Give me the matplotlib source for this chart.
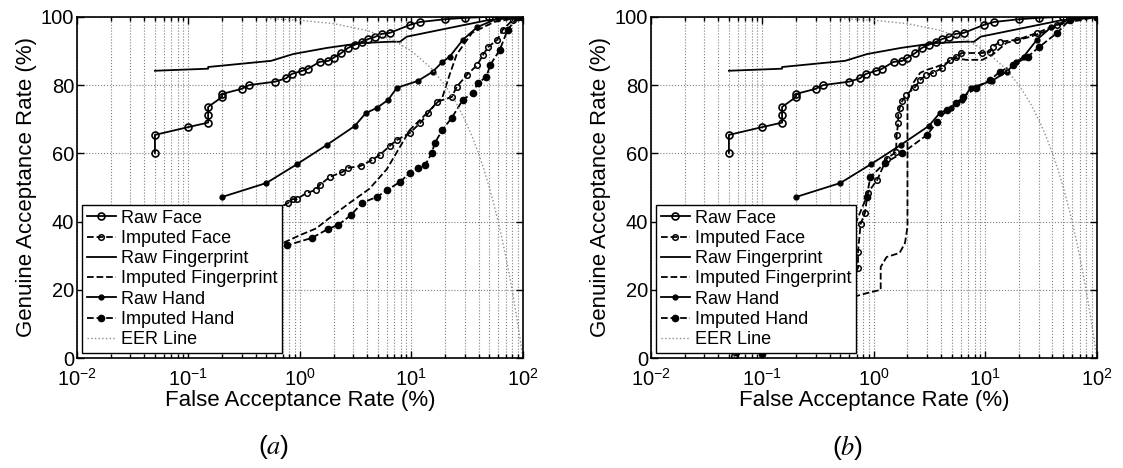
import numpy as np
import matplotlib
matplotlib.use('Agg')
from matplotlib import pyplot as plt
from matplotlib.ticker import LogLocator, NullFormatter, FixedLocator

plt.rcParams['font.family'] = ['Liberation Sans', 'DejaVu Sans']
plt.rcParams['mathtext.default'] = 'regular'
plt.rcParams['mathtext.fontset'] = 'stix'

# ---- raw curves (same in both panels) ----
raw_face_far = [0.05, 0.05, 0.1, 0.15, 0.15, 0.15, 0.2, 0.2, 0.3, 0.35, 0.6, 0.75, 0.85, 1.05, 1.17,
                1.5, 1.8, 2.0, 2.35, 2.7, 3.1, 3.6, 4.1, 4.7, 5.4, 6.4, 9.8, 12, 20, 30, 50, 100]
raw_face_gar = [60.1, 65.4, 67.7, 69, 71.3, 73.6, 76.5, 77.4, 78.9, 80, 81, 82, 83.3, 84.2, 84.7,
                86.8, 87.1, 88, 89.4, 90.9, 91.8, 92.7, 93.5, 94.1, 95, 95.3, 97.7, 98.5, 99.3, 99.7, 100, 100]

raw_fp_far = [0.05, 0.15, 0.15, 0.55, 0.87, 1.75, 3.5, 6.4, 7.9, 9.1, 48, 100]
raw_fp_gar = [84.2, 84.8, 85.3, 87.1, 89.1, 90.9, 92.3, 92.7, 92.7, 94.2, 99, 100]

raw_hand_far = [0.2, 0.5, 0.95, 1.75, 3.1, 3.9, 4.9, 6.2, 7.4, 11.4, 15.5, 19, 22, 29, 39, 60, 100]
raw_hand_gar = [47.2, 51.3, 56.9, 62.5, 68, 71.8, 73.3, 75.7, 79.2, 81.2, 83.9, 86.8, 88.3, 93.3, 97, 99.6, 100]

# ---- imputed curves, panel (a) ----
a_imp_face_far = [0.5, 0.78, 0.86, 0.94, 1.15, 1.4, 1.5, 1.86, 2.4, 2.7, 3.5, 4.4, 5.2, 6.4, 7.4, 9.7,
                  12, 14.2, 17, 23, 25.5, 31.5, 39, 44, 49, 59, 66, 81, 100]
a_imp_face_gar = [42, 45.4, 46.6, 46.6, 48.4, 49.3, 50.7, 53.1, 54.5, 55.7, 56.3, 58, 59.5, 62.2, 63.9, 66,
                  68.9, 71.8, 75.1, 76.5, 79.5, 83, 85.9, 88.9, 91.2, 93.3, 96.2, 99.1, 100]

a_imp_fp_far = [0.4, 0.7, 1.0, 1.4, 1.8, 2.8, 4.2, 6.0, 7.9, 9.7, 14, 19, 22, 25.5, 35, 55, 100]
a_imp_fp_gar = [32, 33.7, 36, 38, 40.8, 45.5, 49.6, 55.3, 61.9, 66.9, 72, 76.5, 83, 89, 95.3, 98.5, 100]

a_imp_hand_far = [0.5, 0.76, 1.28, 1.78, 2.2, 2.9, 3.6, 4.9, 6.1, 7.9, 9.7, 11.5, 13.3, 15.2, 16.2, 19,
                  23, 29, 35.5, 39.5, 47, 51, 62, 73, 90, 100]
a_imp_hand_gar = [31.5, 33, 35.2, 37.8, 39, 42, 45.5, 47.2, 49.3, 51.6, 54.3, 55.7, 56.6, 60, 63, 66.9,
                  70.4, 75.7, 77.7, 80.6, 82.4, 85.9, 90.3, 96.2, 100, 100]

# ---- imputed curves, panel (b) ----
b_imp_face_far = [0.055, 0.15, 0.4, 0.72, 0.72, 0.76, 0.83, 0.88, 1.07, 1.3, 1.58, 1.6, 1.65, 1.65, 1.7,
                  1.8, 1.95, 2.35, 2.6, 2.95, 3.4, 4.1, 4.8, 5.5, 6.1, 9.3, 11, 11.6, 13.5, 19.4, 29, 44, 100]
b_imp_face_gar = [0.6, 5, 15, 26.4, 31.1, 39.3, 42.5, 48.4, 52.2, 58.4, 60.4, 65.4, 68.9, 71.3, 73.3,
                  75.4, 77.1, 79.5, 81.5, 83, 83.6, 85, 87.4, 88.3, 89.4, 89.4, 89.7, 91.2, 92.7, 93.3, 95.3, 97.7, 100]

b_imp_fp_far = [0.3, 0.6, 0.86, 1.15, 1.15, 1.3, 1.7, 1.9, 2.0, 2.0, 2.25, 2.6, 3.0, 3.6, 4.5, 5.2,
                6.7, 9.4, 11.6, 15.5, 25, 38, 57, 100]
b_imp_fp_gar = [16.5, 17.6, 19, 20, 26.7, 29.6, 30.8, 33.7, 38.4, 75.7, 80.6, 83.6, 84.5, 85.3, 86.5, 88,
                87.4, 87.4, 88.9, 92.4, 94.1, 96.2, 99, 100]

b_imp_hand_far = [0.1, 0.3, 0.6, 0.86, 0.93, 1.26, 1.8, 3.0, 3.7, 4.5, 5.5, 6.3, 8.3, 11, 13.5, 17.7,
                  24, 30.5, 44, 57, 100]
b_imp_hand_gar = [1.2, 15, 35, 47.2, 53.1, 57.2, 60.1, 65.4, 69.2, 72.7, 74.8, 76.5, 79.2, 81.5, 83.9, 85.9,
                  88.3, 91.2, 95.3, 99.1, 100]

# ---- EER line (FAR = FRR) ----
eer_far = [0.5, 1, 2, 4, 7, 10, 15, 20, 25, 30, 35, 40, 45, 50, 55, 60, 65, 70, 75, 80, 85, 90, 95, 98, 100]
eer_gar = [99.5, 99, 98, 96, 93, 90, 85, 80, 75, 70, 65, 60, 55, 50, 45, 40, 35, 30, 25, 20, 15, 10, 5, 2, 0]


def panel(ax, imp_face, imp_fp, imp_hand, tag):
    ax.plot(raw_face_far, raw_face_gar, '-o', color='k', lw=1.3, ms=5, mfc='none', mew=1.2, label='Raw Face')
    ax.plot(imp_face[0], imp_face[1], '--o', color='k', lw=1.3, ms=4, mfc='none', mew=1.1, label='Imputed Face')
    ax.plot(raw_fp_far, raw_fp_gar, '-', color='k', lw=1.3, label='Raw Fingerprint')
    ax.plot(imp_fp[0], imp_fp[1], '--', color='k', lw=1.3, label='Imputed Fingerprint')
    ax.plot(raw_hand_far, raw_hand_gar, '-', marker='.', color='k', lw=1.3, ms=7, label='Raw Hand')
    ax.plot(imp_hand[0], imp_hand[1], '--', marker='.', color='k', lw=1.3, ms=9, label='Imputed Hand')
    ax.plot(eer_far, eer_gar, ':', color='0.55', lw=1.0, label='EER Line')

    ax.set_xscale('log')
    ax.set_xlim(1e-2, 1e2)
    ax.set_ylim(0, 100)
    ax.xaxis.set_major_locator(LogLocator(base=10, numticks=10))
    ax.xaxis.set_minor_locator(LogLocator(base=10, subs=np.arange(2, 10), numticks=10))
    ax.xaxis.set_minor_formatter(NullFormatter())
    ax.yaxis.set_major_locator(FixedLocator([0, 20, 40, 60, 80, 100]))
    ax.grid(True, which='major', ls=':', color='0.5', lw=0.8)
    ax.grid(True, which='minor', axis='x', ls=':', color='0.5', lw=0.8)
    ax.tick_params(which='both', direction='in', top=True, right=True, labelsize=14.5, width=1)
    ax.tick_params(which='major', length=5)
    ax.tick_params(which='minor', length=3)
    ax.tick_params(axis='x', pad=7)
    ax.tick_params(axis='y', pad=2)
    for s in ax.spines.values():
        s.set_linewidth(1.2)
    ax.set_xlabel('False Acceptance Rate (%)', fontsize=16, labelpad=0.5)
    ax.set_ylabel('Genuine Acceptance Rate (%)', fontsize=16, labelpad=3)
    leg = ax.legend(loc='lower left', fontsize=13, fancybox=False, edgecolor='k', framealpha=1,
                    borderaxespad=0.3, borderpad=0.25, labelspacing=0.18, handlelength=1.6,
                    handletextpad=0.3)
    leg.get_frame().set_linewidth(1.0)
    ax.text(0.44, -0.262, tag, transform=ax.transAxes, ha='center', va='center', fontsize=19)


fig = plt.figure(figsize=(11.23, 4.68), dpi=100)
ax1 = fig.add_axes([0.0686, 0.235, 0.397, 0.729])
ax2 = fig.add_axes([0.5797, 0.235, 0.397, 0.729])
panel(ax1, (a_imp_face_far, a_imp_face_gar), (a_imp_fp_far, a_imp_fp_gar), (a_imp_hand_far, a_imp_hand_gar),
      r'$(\mathit{a})$')
panel(ax2, (b_imp_face_far, b_imp_face_gar), (b_imp_fp_far, b_imp_fp_gar), (b_imp_hand_far, b_imp_hand_gar),
      r'$(\mathit{b})$')
fig.savefig('out.png', dpi=100)
